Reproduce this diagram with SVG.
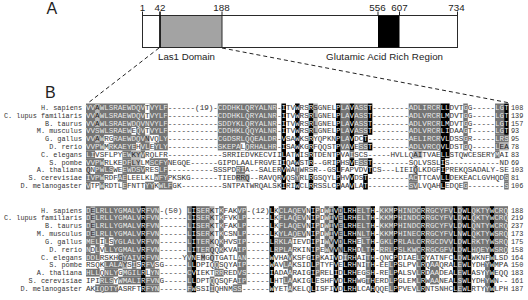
<svg xmlns="http://www.w3.org/2000/svg" xmlns:xlink="http://www.w3.org/1999/xlink" width="528" height="300" viewBox="0 0 528 300">
<style>
.sq1{font-family:"Liberation Mono","DejaVu Sans Mono",monospace;font-size:7.57px;fill:url(#tf)}
.sq2{font-family:"Liberation Mono","DejaVu Sans Mono",monospace;font-size:7.64px;fill:url(#tf)}
.lb{font-family:"Liberation Mono","DejaVu Sans Mono",monospace;font-size:6.85px;fill:#333;text-anchor:end}
.nm{font-family:"Liberation Mono","DejaVu Sans Mono",monospace;font-size:6.85px;fill:#333}
.hd{font-family:"Liberation Sans",Arial,sans-serif;font-size:16px;fill:#222}
.ax{font-family:"Liberation Sans",Arial,sans-serif;font-size:9.8px;fill:#222;text-anchor:middle}
.dm{font-family:"Liberation Sans",Arial,sans-serif;font-size:9.7px;fill:#222}
.tick{stroke:#222;stroke-width:1}
.dash{stroke:#222;stroke-width:1;stroke-dasharray:4 3;fill:none}
</style>
<defs>
<g id="b1d" transform="translate(86 103.5) scale(4.545 7.82)">
<rect x="0" y="0" width="18" height="6"/><rect x="29" y="0" width="13" height="6"/><rect x="71" y="0" width="7" height="6"/><rect x="83" y="0" width="1" height="6"/><rect x="56" y="0" width="2" height="6"/><rect x="59" y="0" width="3" height="4"/><rect x="60" y="5" width="2" height="1"/><rect x="90" y="0" width="2" height="4"/><rect x="90" y="4" width="3" height="1"/><rect x="90" y="5" width="1" height="1"/>
<rect x="0" y="6" width="2" height="1"/><rect x="8" y="6" width="2" height="1"/><rect x="12" y="6" width="1" height="1"/><rect x="90" y="6" width="1" height="1"/><rect x="58" y="6" width="1" height="1"/>
<rect x="0" y="7" width="4" height="1"/><rect x="8" y="7" width="2" height="1"/><rect x="14" y="7" width="4" height="1"/><rect x="60" y="7" width="2" height="1"/>
<rect x="2" y="8" width="4" height="1"/><rect x="8" y="8" width="5" height="1"/><rect x="16" y="8" width="2" height="1"/><rect x="33" y="8" width="2" height="1"/><rect x="46" y="8" width="1" height="1"/>
<rect x="0" y="9" width="4" height="1"/><rect x="7" y="9" width="2" height="1"/><rect x="15" y="9" width="3" height="1"/><rect x="46" y="9" width="1" height="1"/><rect x="71" y="9" width="2" height="1"/><rect x="92" y="9" width="1" height="1"/>
<rect x="0" y="10" width="1" height="1"/><rect x="3" y="10" width="1" height="1"/><rect x="8" y="10" width="1" height="1"/><rect x="13" y="10" width="2" height="1"/><rect x="16" y="10" width="3" height="1"/><rect x="71" y="10" width="2" height="1"/><rect x="83" y="10" width="1" height="1"/><rect x="92" y="10" width="1" height="1"/>
</g>
<g id="b1l" transform="translate(86 103.5) scale(4.545 7.82)">
<rect x="2" y="0" width="1" height="3"/><rect x="2" y="4" width="1" height="1"/><rect x="13" y="4" width="1" height="1"/><rect x="50" y="0" width="1" height="4"/><rect x="91" y="5" width="2" height="1"/><rect x="10" y="6" width="2" height="1"/><rect x="72" y="6" width="2" height="1"/><rect x="10" y="7" width="2" height="1"/><rect x="0" y="8" width="1" height="1"/><rect x="72" y="8" width="1" height="1"/><rect x="33" y="9" width="3" height="1"/>
</g>
<g id="b1k" transform="translate(86 103.5) scale(4.545 7.82)">
<rect x="43" y="0" width="1" height="11"/><rect x="46" y="0" width="1" height="8"/><rect x="46" y="10" width="1" height="1"/><rect x="49" y="0" width="1" height="8"/><rect x="49" y="9" width="1" height="2"/><rect x="55" y="0" width="1" height="11"/><rect x="58" y="0" width="1" height="6"/><rect x="58" y="7" width="1" height="1"/><rect x="58" y="9" width="1" height="2"/><rect x="62" y="0" width="1" height="4"/><rect x="62" y="5" width="1" height="1"/><rect x="62" y="7" width="1" height="2"/><rect x="61" y="4" width="1" height="1"/><rect x="61" y="9" width="1" height="2"/><rect x="78" y="0" width="2" height="7"/><rect x="78" y="9" width="2" height="1"/><rect x="78" y="7" width="1" height="2"/><rect x="78" y="10" width="1" height="1"/><rect x="92" y="0" width="1" height="4"/>
</g>
<g id="b1w" transform="translate(86 103.5) scale(4.545 7.82)">
<rect x="13" y="0" width="1" height="2"/><rect x="10" y="3" width="1" height="1"/><rect x="13" y="3" width="1" height="1"/><rect x="4" y="4" width="2" height="1"/><rect x="14" y="4" width="2" height="1"/><rect x="4" y="5" width="1" height="1"/><rect x="11" y="5" width="1" height="1"/><rect x="14" y="5" width="1" height="1"/><rect x="34" y="5" width="1" height="1"/>
</g>
<g id="b2d" transform="translate(86 206.2) scale(4.587 7.82)">
<rect x="0" y="0" width="12" height="6"/><rect x="13" y="0" width="3" height="7"/><rect x="0" y="6" width="3" height="1"/><rect x="8" y="6" width="4" height="1"/><rect x="4" y="7" width="4" height="1"/><rect x="10" y="7" width="1" height="1"/><rect x="13" y="7" width="2" height="1"/><rect x="0" y="8" width="12" height="1"/><rect x="13" y="8" width="3" height="1"/><rect x="3" y="9" width="3" height="1"/><rect x="7" y="9" width="5" height="1"/><rect x="13" y="9" width="3" height="1"/><rect x="2" y="10" width="5" height="1"/><rect x="13" y="10" width="3" height="1"/>
<rect x="22" y="0" width="1" height="11"/><rect x="24" y="0" width="3" height="6"/><rect x="29" y="0" width="1" height="6"/><rect x="28" y="7" width="1" height="1"/><rect x="28" y="8" width="2" height="1"/><rect x="27" y="9" width="1" height="2"/><rect x="33" y="0" width="2" height="10"/><rect x="32" y="10" width="2" height="1"/>
<rect x="42" y="0" width="6" height="4"/><rect x="41" y="4" width="4" height="2"/><rect x="43" y="7" width="1" height="1"/><rect x="43" y="9" width="1" height="1"/><rect x="44" y="6" width="1" height="5"/><rect x="50" y="0" width="1" height="9"/><rect x="52" y="0" width="1" height="6"/><rect x="56" y="6" width="1" height="1"/><rect x="59" y="0" width="3" height="4"/><rect x="60" y="4" width="2" height="2"/><rect x="61" y="6" width="1" height="4"/>
<rect x="64" y="0" width="3" height="6"/><rect x="68" y="0" width="5" height="6"/><rect x="74" y="0" width="6" height="6"/><rect x="81" y="0" width="1" height="11"/><rect x="84" y="0" width="4" height="6"/><rect x="89" y="0" width="3" height="6"/><rect x="66" y="7" width="1" height="4"/><rect x="72" y="6" width="1" height="5"/><rect x="75" y="7" width="2" height="3"/><rect x="87" y="7" width="1" height="4"/>
</g>
<g id="b2l" transform="translate(86 206.2) scale(4.587 7.82)">
<rect x="1" y="0" width="1" height="4"/><rect x="27" y="0" width="1" height="6"/><rect x="7" y="6" width="1" height="1"/><rect x="25" y="6" width="1" height="1"/><rect x="27" y="6" width="1" height="1"/><rect x="8" y="7" width="1" height="1"/><rect x="53" y="0" width="1" height="6"/><rect x="55" y="0" width="1" height="6"/>
</g>
<g id="b2k" transform="translate(86 206.2) scale(4.587 7.82)">
<rect x="12" y="0" width="1" height="11"/><rect x="23" y="0" width="1" height="11"/><rect x="40" y="0" width="1" height="11"/><rect x="49" y="0" width="1" height="11"/><rect x="54" y="0" width="1" height="11"/><rect x="56" y="0" width="3" height="6"/><rect x="57" y="6" width="2" height="1"/><rect x="56" y="7" width="3" height="4"/><rect x="62" y="0" width="1" height="11"/><rect x="67" y="0" width="1" height="11"/><rect x="73" y="0" width="1" height="11"/><rect x="80" y="0" width="1" height="11"/><rect x="82" y="0" width="2" height="11"/><rect x="88" y="0" width="1" height="11"/>
</g>
<g id="b2w" transform="translate(86 206.2) scale(4.587 7.82)">
<rect x="3" y="4" width="1" height="1"/><rect x="5" y="4" width="1" height="1"/><rect x="1" y="5" width="1" height="1"/><rect x="3" y="5" width="1" height="1"/><rect x="3" y="8" width="1" height="1"/><rect x="7" y="8" width="1" height="1"/><rect x="13" y="8" width="1" height="1"/>
</g>
<pattern id="tf" patternUnits="userSpaceOnUse" x="0" y="0" width="528" height="300">
<rect width="528" height="300" fill="#333"/>
<use href="#b1d" fill="#f0f0f0"/><use href="#b1l" fill="#222"/><use href="#b1k" fill="#fff"/><use href="#b1w" fill="#333"/>
<use href="#b2d" fill="#f0f0f0"/><use href="#b2l" fill="#222"/><use href="#b2k" fill="#fff"/><use href="#b2w" fill="#333"/>
</pattern>
</defs>

<g id="panel-A-label"><text class="hd" x="46.5" y="13.5">A</text></g>
<g id="domain-bar">
<rect x="142.5" y="15.5" width="315" height="32" fill="#fff" stroke="#2a2a2a"/>
<rect x="160" y="15.5" width="62" height="32" fill="#a3a3a3" stroke="#2a2a2a"/>
<rect x="378" y="15.5" width="21.5" height="32" fill="#000"/>
<line class="tick" x1="142.5" y1="11.5" x2="142.5" y2="15.5"/>
<line x1="160" y1="11.5" x2="160" y2="48" stroke="#111" stroke-width="1.6"/>
<line class="tick" x1="222" y1="11.5" x2="222" y2="15.5"/>
<line class="tick" x1="378" y1="11.5" x2="378" y2="15.5"/>
<line class="tick" x1="399.5" y1="11.5" x2="399.5" y2="15.5"/>
<line class="tick" x1="457.5" y1="11.5" x2="457.5" y2="15.5"/>
<text class="ax" x="142.5" y="10.5">1</text>
<text class="ax" x="160" y="10.5">42</text>
<text class="ax" x="221.5" y="10.5">188</text>
<text class="ax" x="377.5" y="10.5">556</text>
<text class="ax" x="399.5" y="10.5">607</text>
<text class="ax" x="456.5" y="10.5">734</text>
</g>
<g id="las1-domain-label"><text class="dm" x="158" y="59.5" textLength="57">Las1 Domain</text></g>
<g id="glutamic-label"><text class="dm" x="326" y="59.5" textLength="117">Glutamic Acid Rich Region</text></g>

<g id="connectors">
<line class="dash" x1="159" y1="48" x2="88" y2="103"/>
<line class="dash" x1="222" y1="48" x2="510" y2="103"/>
</g>

<g id="panel-B-label"><text class="hd" x="45" y="98">B</text></g>

<g id="alignment-block-1">
<use href="#b1d" fill="#747474"/><use href="#b1l" fill="#b4b4b4"/><use href="#b1k" fill="#000"/><use href="#b1w" fill="#fff"/>
<text class="lb" x="82" y="109.9">H. sapiens</text>
<text class="lb" x="82" y="117.72">C. lupus familiaris</text>
<text class="lb" x="82" y="125.54">B. taurus</text>
<text class="lb" x="82" y="133.36">M. musculus</text>
<text class="lb" x="82" y="141.18">G. gallus</text>
<text class="lb" x="82" y="149">D. rerio</text>
<text class="lb" x="82" y="156.82">C. elegans</text>
<text class="lb" x="82" y="164.64">S. pombe</text>
<text class="lb" x="82" y="172.46">A. thaliana</text>
<text class="lb" x="82" y="180.28">S. cerevisiae</text>
<text class="lb" x="82" y="188.1">D. melanogaster</text>
<text class="sq1" x="86" y="109.9" textLength="422.7" lengthAdjust="spacing">VVAWLSRAEWDQVTVYLF------(19)-CDDHKLQRYALNR-ITVWRSRSGNELPLAVASST--------ADLIRCRLLDVTGG-----LGT</text>
<text class="sq1" x="86" y="117.72" textLength="422.7" lengthAdjust="spacing">VVAWLSRAEWDQVTVYLF-----------CDDHKLQRYALNR-ITVWRSRLGNELPLAVASST--------ADLVRCRLMDVTGG-----LGT</text>
<text class="sq1" x="86" y="125.54" textLength="422.7" lengthAdjust="spacing">VVAWLSRAEWDQVNVYLF-----------SDDYKLQRYALNR-ITVWRSRLGNELPLAVASST--------ADLVRCRLMDVTGG-----LGT</text>
<text class="sq1" x="86" y="133.36" textLength="422.7" lengthAdjust="spacing">VVSWLSRAEWEQVTVYLF-----------CDDHKLQQYALNR-ITVWRSRLGNELPLAVASST--------ADLVRCRLIDAAGT-----LGT</text>
<text class="sq1" x="86" y="141.18" textLength="422.7" lengthAdjust="spacing">VVAWRGRAEWDQVNVQLY-----------CGDSRLQQEALDR-VSAWKSRYQPKNPLAVDCT---------AELIRCRVLDSSGR-----LRS</text>
<text class="sq1" x="86" y="149" textLength="422.7" lengthAdjust="spacing">VVPWMRKAEYEHVLEYLY-----------SKEPALQRHALHR-ISAWKGRFQQSTPVAVESST--------ADLVRCQVLDSTGQ-----LEA</text>
<text class="sq1" x="86" y="156.82" textLength="422.7" lengthAdjust="spacing">LIVSFLPYEWKYVRQLFR------------SRRIEDVKECVIILATWISRTDENTPVAISCS-----HVLLQAITVAELLSTQWCESERYMAI</text>
<text class="sq1" x="86" y="164.64" textLength="422.7" lengthAdjust="spacing">VVPWRLKEDFLYLMSCFYNEGQE------GIPDLAALFRGVEIIQAWSTR--GRIPHSVESST--------SQLVSSLIS-----------ND</text>
<text class="sq1" x="86" y="172.46" textLength="422.7" lengthAdjust="spacing">QNPWLSWEEWDSVRESLF----------SSSPDRIA--SALERVWATWRSR--GSLFAPVDVTCS---LIEIQLKDGFIPREKQSADALY-SE</text>
<text class="sq1" x="86" y="180.28" textLength="422.7" lengthAdjust="spacing">IVPWRDFAELEELKLWFYPKSKG------TIEDRRQ--RAVQRVQSYRLRGSQYLPHVVDST---------ACTTCAVLLDEKEACLGVHQDS</text>
<text class="sq1" x="86" y="188.1" textLength="422.7" lengthAdjust="spacing">VTPWRDTLEFNTTYYKWLFGK---------SNTPATWRQALSKIRIWCLRRSSLCPAAVLAT---------SVLVQAHLEDQEG--------S</text>
<text class="nm" x="511" y="109.9">108</text>
<text class="nm" x="511" y="117.72">139</text>
<text class="nm" x="511" y="125.54">157</text>
<text class="nm" x="511" y="133.36">93</text>
<text class="nm" x="511" y="141.18">95</text>
<text class="nm" x="511" y="149">78</text>
<text class="nm" x="511" y="156.82">83</text>
<text class="nm" x="511" y="164.64">69</text>
<text class="nm" x="511" y="172.46">103</text>
<text class="nm" x="511" y="180.28">81</text>
<text class="nm" x="511" y="188.1">106</text>
</g>

<g id="alignment-block-2">
<use href="#b2d" fill="#747474"/><use href="#b2l" fill="#b4b4b4"/><use href="#b2k" fill="#000"/><use href="#b2w" fill="#fff"/>
<text class="lb" x="82" y="212.6">H. sapiens</text>
<text class="lb" x="82" y="220.42">C. lupus familiaris</text>
<text class="lb" x="82" y="228.24">B. taurus</text>
<text class="lb" x="82" y="236.06">M. musculus</text>
<text class="lb" x="82" y="243.88">G. gallus</text>
<text class="lb" x="82" y="251.7">D. rerio</text>
<text class="lb" x="82" y="259.52">C. elegans</text>
<text class="lb" x="82" y="267.34">S. pombe</text>
<text class="lb" x="82" y="275.16">A. thaliana</text>
<text class="lb" x="82" y="282.98">S. cerevisiae</text>
<text class="lb" x="82" y="290.8">D. melanogaster</text>
<text class="sq2" x="86" y="212.6" textLength="422" lengthAdjust="spacing">DELRLLYGMALVRFVN-(50) LISERKTKFAKVP-(12)LKCLAQEVNIPDWIVDLRHELTH-KKMPHINDCRRGCYFVLDWLQKTYWCRQ</text>
<text class="sq2" x="86" y="220.42" textLength="422" lengthAdjust="spacing">DELRLLYGMALVRFVN------LISERKTKFVKLP-----LKFLAQEVNIPDWIVELRHELTH-KKMPHINDCRRGCYFVLDWLQKTYWCRQ</text>
<text class="sq2" x="86" y="228.24" textLength="422" lengthAdjust="spacing">DELRLLYGMALVRFVN------LISERKTKFAKLP-----LKFLAQEVNIPDWIVELRHELTH-KKMPHINDCRRGCYFVLDWLQNTYWCRQ</text>
<text class="sq2" x="86" y="236.06" textLength="422" lengthAdjust="spacing">DELRLLYGMALVRFVN------LISERKTKCSNLP-----LKYLAQEVNIPDWIVELRHNLTH-KKMPHINECRRGCYFVLNWLQKTYWSRQ</text>
<text class="sq2" x="86" y="243.88" textLength="422" lengthAdjust="spacing">MELILSYGLALVRFVN------LITERKQKHVSIP-----LRKLAIEVDIPIWVVDLRHELTH-GKLPRLALCRRGCDVVLDWLRKTYWSRQ</text>
<text class="sq2" x="86" y="251.7" textLength="422" lengthAdjust="spacing">NDLVLLYGMALVRFVN------LITERQQKKVAIP-----LRPLARKINIPEWVVNLRHDLTH-RRLPSLKWCRRGCGFVLDWLHQEYWSRQ</text>
<text class="sq2" x="86" y="259.52" textLength="422" lengthAdjust="spacing">DDLRSKHGYAIVRFVN-----YVNEMGQTGATLAN-----WVHAVKSFGIPKAIVDIRHAITH-QNCPDIAELRYATNFCLDWLWKNFWLSD</text>
<text class="sq2" x="86" y="267.34" textLength="422" lengthAdjust="spacing">RSQKLALAYSISRFVSG-----LLDPIQQSQYAIP-----WAVLAKSIDLPTYFVELRHNITH-EELPSLPVLRQAAQRALEWLYDHYWMPA</text>
<text class="sq2" x="86" y="275.16" textLength="422" lengthAdjust="spacing">HLLQNLYGMGILRLYN------CVIEKTRRREDVS-----IADAARAIGIPRELIDLRHEGSH-RELPALSVLRDAADEALEWLASYYWEQQ</text>
<text class="sq2" x="86" y="282.98" textLength="422" lengthAdjust="spacing">IPIRLSYWMALIRFVNG-----LLDPTQQSQFAIP-----LHTLAAKIGLESHFVDLRHWGTHERDLPGLEMLRWAANEALSWLYDHYWN--</text>
<text class="sq2" x="86" y="290.8" textLength="422" lengthAdjust="spacing">AKIQDTYASRFTRFYN------FWSSIIQHNMSS------WYETAKELQLISFIVDLRHLCAHQQELPPVEVLRNTSNHCLEWLRTYYWLPH</text>
<text class="nm" x="511" y="212.6">188</text>
<text class="nm" x="511" y="220.42">219</text>
<text class="nm" x="511" y="228.24">237</text>
<text class="nm" x="511" y="236.06">173</text>
<text class="nm" x="511" y="243.88">175</text>
<text class="nm" x="511" y="251.7">158</text>
<text class="nm" x="511" y="259.52">164</text>
<text class="nm" x="511" y="267.34">150</text>
<text class="nm" x="511" y="275.16">183</text>
<text class="nm" x="511" y="282.98">161</text>
<text class="nm" x="511" y="290.8">187</text>
</g>
</svg>
